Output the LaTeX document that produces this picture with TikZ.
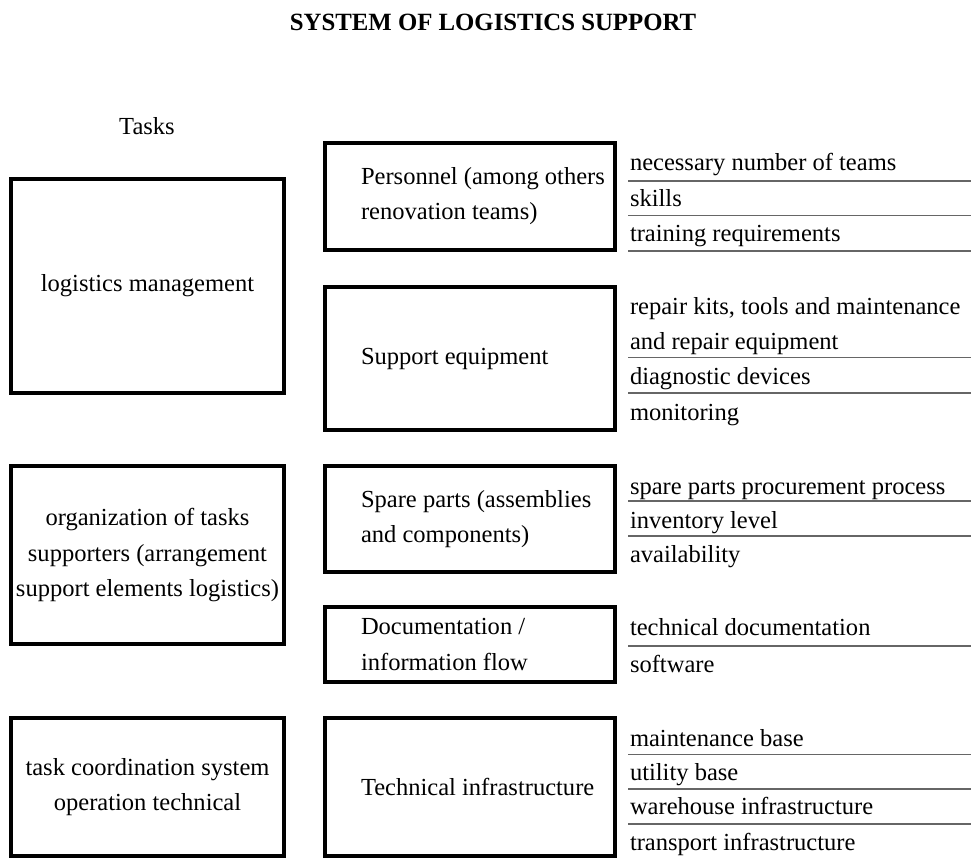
\documentclass[tikz,border=0pt]{standalone}
\usepackage{fontspec}
\setmainfont{Liberation Serif}
\begin{document}
\begin{tikzpicture}[x=0.75pt, y=-0.75pt,
  every node/.style={inner sep=0pt, outer sep=0pt},
  txt/.style={font=\fontsize{18.4pt}{26.3pt}\selectfont},
  box/.style={draw, line width=2.5pt, txt, align=center},
  lbl/.style={txt, align=left, anchor=west},
  item/.style={txt, anchor=base west},
  rule/.style={draw=black!60, line width=1.3pt, dash pattern=on 0.35pt off 0.3pt}
]
\useasboundingbox (0,0) rectangle (971,858);

% title and column heading
\node[font=\bfseries\fontsize{18.6pt}{22pt}\selectfont] (title) at (493,22) {SYSTEM OF LOGISTICS SUPPORT};
\node[txt] (tasks) at (147,126) {Tasks};

% task boxes
\node[box, minimum width=204.75pt, minimum height=160.5pt] (lm) at (147.5,286) {logistics management};
\node[box, minimum width=204.75pt, minimum height=133.5pt] (org) at (147.5,555)
  {organization of tasks\\supporters (arrangement\\support elements logistics)};
\node[box, minimum width=204.75pt, minimum height=103.5pt] (coord) at (147.5,787)
  {task coordination system\\operation technical};

% support element boxes
\node[box, minimum width=217.5pt, minimum height=80.25pt] (pers) at (470,196.5) {};
\node[box, minimum width=217.5pt, minimum height=107.25pt] (equip) at (470,358.5) {};
\node[box, minimum width=217.5pt, minimum height=79.5pt] (spare) at (470,519) {};
\node[box, minimum width=217.5pt, minimum height=56.25pt] (doc) at (470,644.5) {};
\node[box, minimum width=217.5pt, minimum height=103.5pt] (infra) at (470,787) {};

\node[lbl] (perst) at ([xshift=27pt]pers.west) {Personnel (among others\\renovation teams)};
\node[lbl] (equipt) at ([xshift=27pt]equip.west) {Support equipment};
\node[lbl] (sparet) at ([xshift=27pt]spare.west) {Spare parts (assemblies\\and components)};
\node[lbl] (doct) at ([xshift=27pt]doc.west) {Documentation /\\information flow};
\node[lbl] (infrat) at ([xshift=27pt]infra.west) {Technical infrastructure};

% element details with separating rules
\node[item] (p1) at (630,170) {necessary number of teams};
\node[item] (p2) at (630,206) {skills};
\node[item] (p3) at (630,241.5) {training requirements};
\draw[rule] (628,181) -- (971,181);
\draw[rule] (628,215.5) -- (971,215.5);
\draw[rule] (628,251) -- (971,251);

\node[item] (e1) at (630,314.5) {repair kits, tools and maintenance};
\node[item] (e2) at (630,349) {and repair equipment};
\node[item] (e3) at (630,384) {diagnostic devices};
\node[item] (e4) at (630,420) {monitoring};
\draw[rule] (628,357.5) -- (971,357.5);
\draw[rule] (628,393) -- (971,393);

\node[item] (s1) at (630,494) {spare parts procurement process};
\node[item] (s2) at (630,528) {inventory level};
\node[item] (s3) at (630,562) {availability};
\draw[rule] (628,501) -- (971,501);
\draw[rule] (628,536) -- (971,536);

\node[item] (d1) at (630,635) {technical documentation};
\node[item] (d2) at (630,672) {software};
\draw[rule] (628,646) -- (971,646);

\node[item] (i1) at (630,746) {maintenance base};
\node[item] (i2) at (630,780) {utility base};
\node[item] (i3) at (630,814) {warehouse infrastructure};
\node[item] (i4) at (630,850) {transport infrastructure};
\draw[rule] (628,754.5) -- (971,754.5);
\draw[rule] (628,789) -- (971,789);
\draw[rule] (628,824) -- (971,824);
\end{tikzpicture}
\end{document}
